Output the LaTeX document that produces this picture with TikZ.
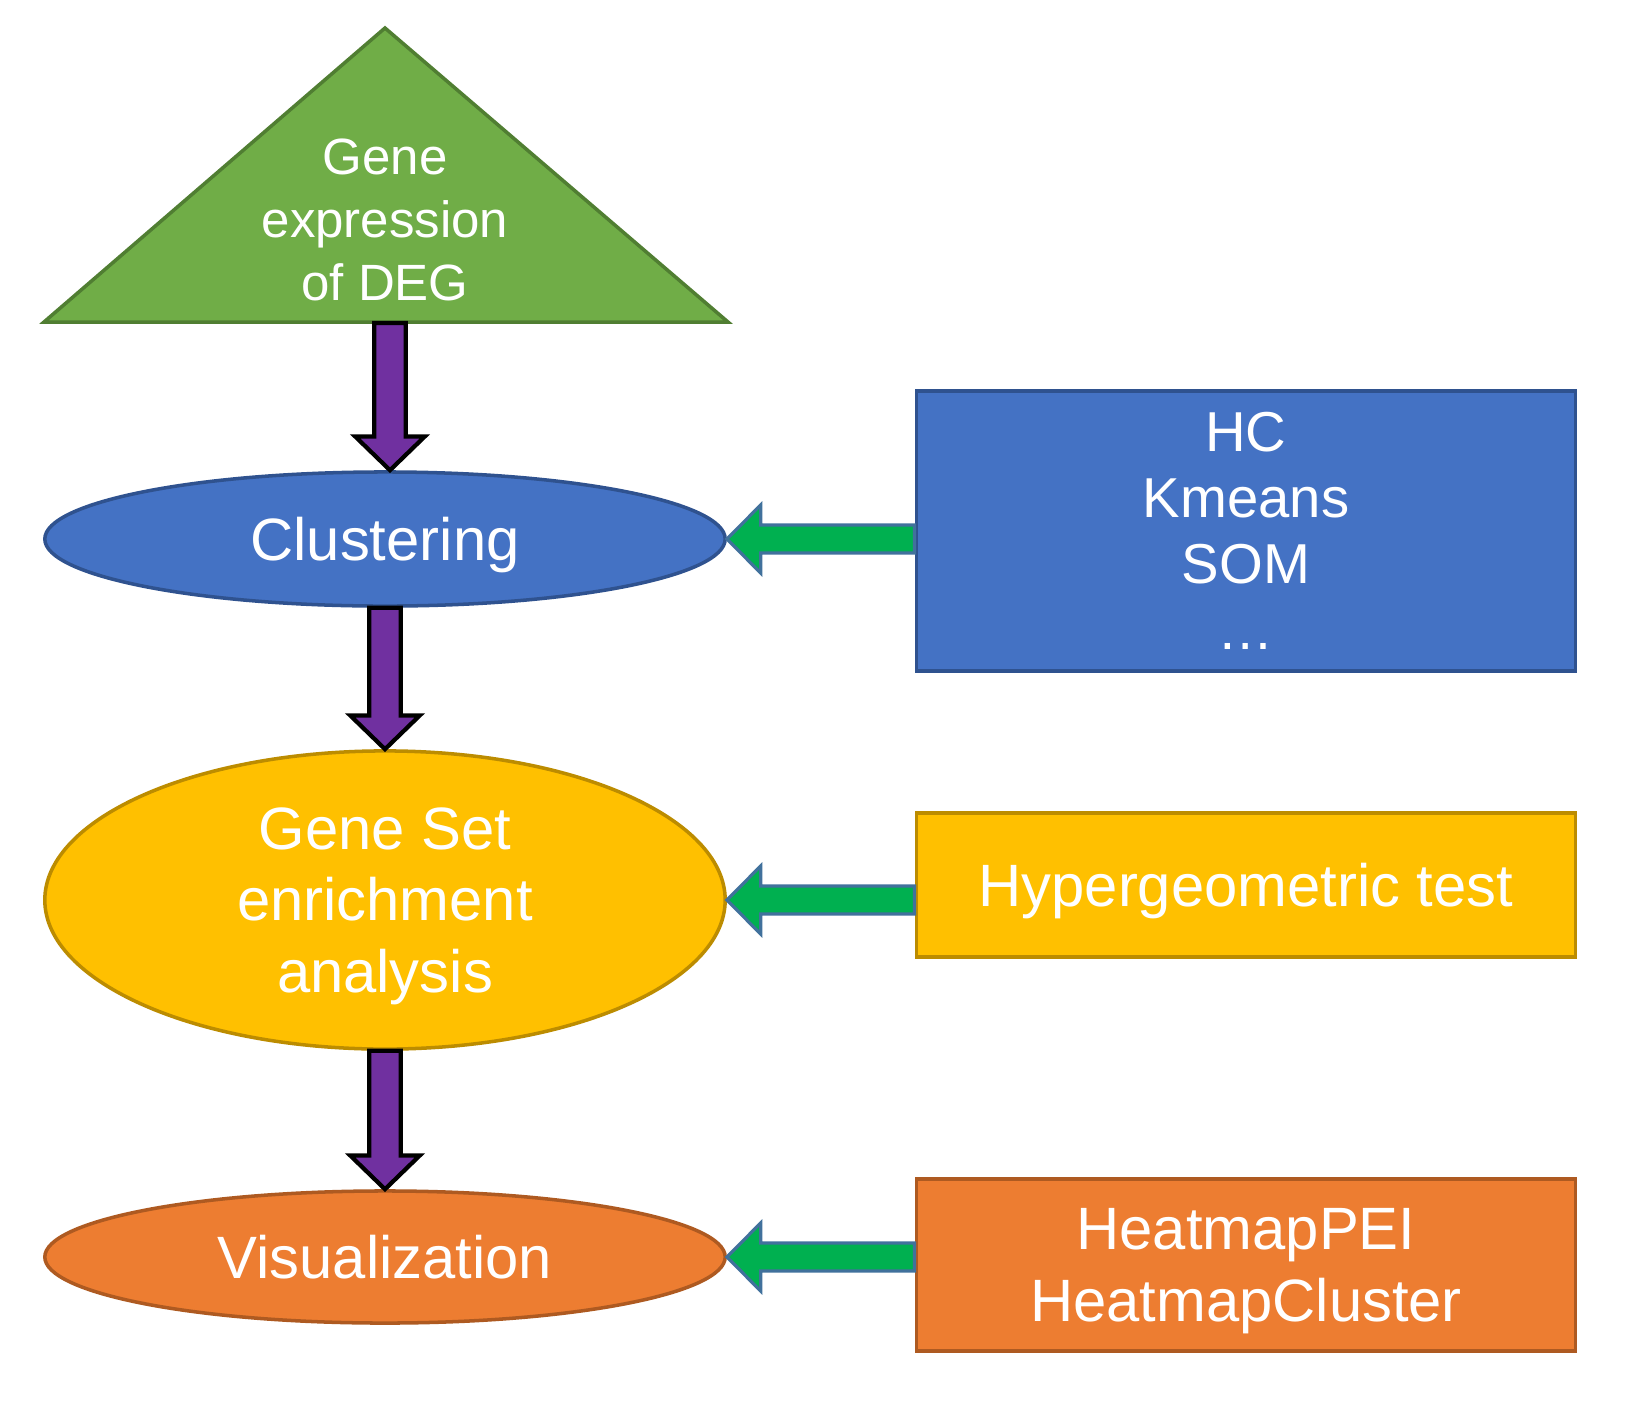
\documentclass[tikz,border=0pt]{standalone}
\usepackage{fontspec}
\setmainfont{Liberation Sans}
\usetikzlibrary{shapes.geometric,calc}

\definecolor{trifill}{HTML}{70AD47}
\definecolor{triline}{HTML}{507E32}
\definecolor{bluefill}{HTML}{4472C4}
\definecolor{blueline}{HTML}{2F528F}
\definecolor{goldfill}{HTML}{FFC000}
\definecolor{goldline}{HTML}{BC8C00}
\definecolor{orangefill}{HTML}{ED7D31}
\definecolor{orangeline}{HTML}{AE5A21}
\definecolor{arrowpurple}{HTML}{7030A0}
\definecolor{arrowgreen}{HTML}{00B050}
\definecolor{arrowline}{HTML}{41719C}

% block arrow sizes (pt)
\def\psw{4.5pt}   % purple shaft half width
\def\phw{9.9pt}   % purple head half width
\def\phl{9.6pt}   % purple head length
\def\gsw{4.0pt}   % green shaft half width
\def\ghw{9.7pt}   % green head half width
\def\ghl{9.6pt}   % green head length

% downward block arrow from #1 to #2
\newcommand{\downblk}[2]{%
  \filldraw[purplearrow] let \p1=(#1), \p2=(#2) in
    (\x1-\psw,\y1) -- (\x1+\psw,\y1) -- (\x1+\psw,\y2+\phl) -- (\x1+\phw,\y2+\phl)
    -- (\x1,\y2) -- (\x1-\phw,\y2+\phl) -- (\x1-\psw,\y2+\phl) -- cycle;}
% leftward block arrow from #1 to #2
\newcommand{\leftblk}[2]{%
  \filldraw[greenarrow] let \p1=(#1), \p2=(#2) in
    (\x1,\y2+\gsw) -- (\x1,\y2-\gsw) -- (\x2+\ghl,\y2-\gsw) -- (\x2+\ghl,\y2-\ghw)
    -- (\x2,\y2) -- (\x2+\ghl,\y2+\ghw) -- (\x2+\ghl,\y2+\gsw) -- cycle;}

\begin{document}
\begin{tikzpicture}[x=0.01cm,y=-0.01cm,
  stage/.style={ellipse,inner sep=0pt,minimum width=6.8cm,line width=1pt,text depth=0pt,
    text=white,align=center,font=\fontsize{17}{20.4}\selectfont},
  method/.style={rectangle,inner sep=0pt,minimum width=6.59cm,line width=1pt,text depth=0pt,
    text=white,align=center,font=\fontsize{17}{20.4}\selectfont},
  purplearrow/.style={fill=arrowpurple,draw=black,line width=1.2pt,line join=miter},
  greenarrow/.style={fill=arrowgreen,draw=arrowline,line width=0.9pt,line join=miter}]

\useasboundingbox (0,0) rectangle (1650,1408);

% Input triangle
\draw[fill=trifill,draw=triline,line width=1pt,line join=miter]
  (44,322) -- (385,28) -- (728,322) -- cycle;
\node[text=white,align=center,font=\fontsize{14.5}{17.8}\selectfont] (gene) at (385,220)
  {Gene\\expression\\of DEG};
\coordinate (genebase) at (390,323);

% Stages
\node[stage,fill=bluefill,draw=blueline,minimum height=1.34cm] (clus) at (385,539) {Clustering};
\node[stage,fill=goldfill,draw=goldline,minimum height=2.98cm] (gset) at (385,900)
  {Gene Set\\enrichment\\analysis};
\node[stage,fill=orangefill,draw=orangeline,minimum height=1.32cm] (vis) at (385,1257) {Visualization};

% Methods
\node[method,fill=bluefill,draw=blueline,minimum height=2.8cm,
  font=\fontsize{16}{18.8}\selectfont] (hc) at (1246,531) {HC\\Kmeans\\SOM\\…};
\node[method,fill=goldfill,draw=goldline,minimum height=1.44cm] (hyper) at (1246,885)
  {Hypergeometric test};
\node[method,fill=orangefill,draw=orangeline,minimum height=1.72cm] (heat) at (1246,1265)
  {HeatmapPEI\\HeatmapCluster};

% Flow arrows
\downblk{genebase}{clus.north}
\downblk{clus.south}{gset.north}
\downblk{gset.south}{vis.north}

% Method arrows
\leftblk{hc.west}{clus.east}
\leftblk{hyper.west}{gset.east}
\leftblk{heat.west}{vis.east}

\end{tikzpicture}
\end{document}
